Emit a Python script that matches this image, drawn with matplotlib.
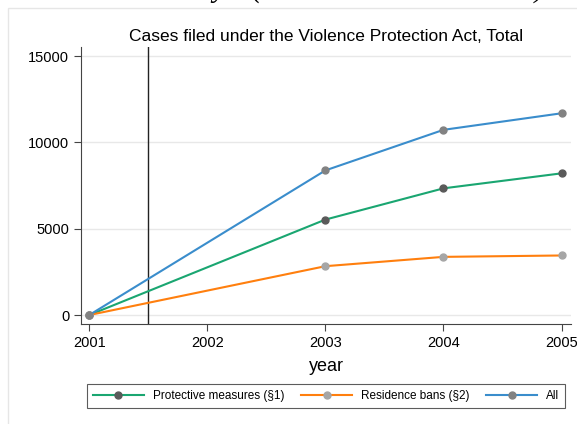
import matplotlib
matplotlib.use("Agg")
import matplotlib.pyplot as plt
from matplotlib.lines import Line2D
from matplotlib.patches import Rectangle

plt.rcParams['font.family'] = ['Liberation Sans', 'DejaVu Sans']

years = [2001, 2003, 2004, 2005]
protective = [0, 5530, 7340, 8210]
residence = [0, 2830, 3370, 3450]
total = [0, 8380, 10730, 11690]
series_labels = ["Protective measures (§1)", "Residence bans (§2)", "All"]
line_colors = ["#1aa671", "#ff7f0e", "#3a8dcc"]
marker_colors = ["#5a5a5a", "#a6a6a6", "#828282"]
x_ticks = [2001, 2002, 2003, 2004, 2005]
y_ticks = [0, 5000, 10000, 15000]
reform_year = 2001.5
heading_country = "Germany"
heading_law = "(Violence Protection Act)"

W, H = 577, 424
fig = plt.figure(figsize=(W / 100, H / 100), dpi=100)

# panel frame
fig.patches.append(Rectangle((8 / W, -0.1), 1.2, (H - 8) / H + 0.1,
                             transform=fig.transFigure, fill=False,
                             edgecolor="#e6e6e6", linewidth=1.0))

# heading above the panel, running off the top edge; the bracketed part is
# sized to span its slot
base_y = 1 + 3.5 / H
law = fig.text(252 / W, base_y, heading_law, family="Liberation Serif",
               style="italic", fontsize=20, ha="left", va="baseline")
renderer = fig.canvas.get_renderer()
w = law.get_window_extent(renderer).width
size = 20 * 293 / w
law.set_fontsize(size)
fig.text(226 / W, base_y, heading_country, family="Liberation Serif",
         style="italic", fontsize=size, ha="right", va="baseline")

ax = fig.add_axes([81 / W, 1 - 324 / H, (571 - 81) / W, (324 - 47) / H])

series = [protective, residence, total]
for vals, lc, mc in zip(series, line_colors, marker_colors):
    ax.plot(years, vals, color=lc, linewidth=1.5, marker="o", markersize=5,
            markerfacecolor=mc, markeredgecolor=mc, zorder=3)

ax.axvline(reform_year, color="#222222", linewidth=1.0, zorder=2)

ax.set_xlim(2000.93, 2005.08)
ax.set_ylim(-520, 15530)
ax.set_xticks(x_ticks)
ax.set_yticks(y_ticks)
ax.set_yticklabels([str(v) for v in y_ticks])
ax.tick_params(axis="both", labelsize=10.5, color="#444444", length=5, width=0.8)
ax.grid(axis="y", color="#e8e8e8", linewidth=1.0)
ax.set_axisbelow(True)
for side in ["top", "right"]:
    ax.spines[side].set_visible(False)
for side in ["left", "bottom"]:
    ax.spines[side].set_color("#444444")
    ax.spines[side].set_linewidth(0.8)

ax.set_title("Cases filed under the Violence Protection Act, Total",
             fontsize=12.5, pad=4)
ax.set_xlabel("year", fontsize=13, labelpad=6)

handles = [Line2D([], [], color=lc, linewidth=1.5, marker="o", markersize=5,
                  markerfacecolor=mc, markeredgecolor=mc)
           for lc, mc in zip(line_colors, marker_colors)]
leg = fig.legend(handles, series_labels, loc="center",
                 bbox_to_anchor=(326 / W, 1 - 396 / H), ncol=3, fontsize=8.5,
                 frameon=True, fancybox=False, edgecolor="#333333",
                 handlelength=4.3, handletextpad=0.75, columnspacing=1.45,
                 borderpad=0.5)
leg.get_frame().set_linewidth(0.8)

fig.savefig("out.png", dpi=100)
